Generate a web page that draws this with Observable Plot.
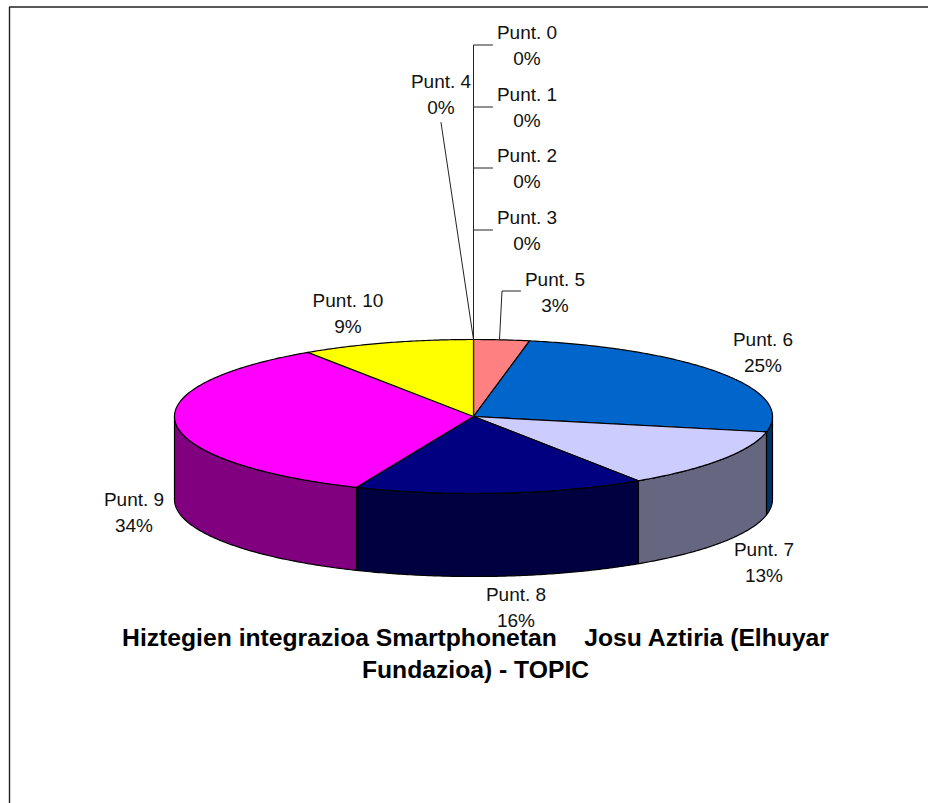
<!DOCTYPE html>
<html>
<head>
<meta charset="utf-8">
<script src="https://cdn.jsdelivr.net/npm/d3@7"></script>
<script src="https://cdn.jsdelivr.net/npm/@observablehq/plot@0.6"></script>
<style>html,body{margin:0;padding:0;background:#fff}svg{display:block}</style>
</head>
<body>
<div id="chart"></div>
<script>
// Data
const categories = ["Punt. 0","Punt. 1","Punt. 2","Punt. 3","Punt. 4","Punt. 5","Punt. 6","Punt. 7","Punt. 8","Punt. 9","Punt. 10"];
const shares = [0,0,0,0,0,3,25.2,12.5,15.7,34.25,9.35];
const titleLines = ["Hiztegien integrazioa Smartphonetan    Josu Aztiria (Elhuyar","Fundazioa) - TOPIC"];

// Styles
const topColors  = ["#ff8080","#ff8080","#ff8080","#ff8080","#ff8080","#ff8080","#0066cc","#ccccff","#000080","#ff00ff","#ffff00"];
const sideColors = ["#804040","#804040","#804040","#804040","#804040","#804040","#003366","#666680","#000040","#800080","#808000"];

// Layout (pixels of the frame)
const W = 928, H = 803;
const pie = {cx:473, cy:416, rx:299, ry:77, depth:83};
const labelX = [526.5,526.5,526.5,526.5,440.5,554.5,762.5,763.5,515.5,133.5,347.5];
const labelY = [45,107,168,230,94,292,352,562,607,512,313].map(y => y - 2);
const leaders = [
  {k:0, at:[[473,416],[473,44.5],[492,44.5]]},
  {k:1, at:[[473,106.5],[492,106.5]]},
  {k:2, at:[[473,167.5],[492,167.5]]},
  {k:3, at:[[473,229.5],[492,229.5]]},
  {k:4, at:[[473,339],[440.5,122]]},
  {k:5, at:[[499,339],[501.5,290.5],[520,290.5]]}
];

// Geometry derived from the values
const TAU = 2*Math.PI;
const total = d3.sum(shares);
const rim = (t, drop=0) => ({x: pie.cx + pie.rx*Math.sin(t), y: pie.cy - pie.ry*Math.cos(t) + drop});
const arc = (a,b,drop=0) => {
  const n = Math.max(2, Math.ceil((b-a)/0.01));
  return d3.range(n+1).map(i => rim(a+(b-a)*i/n, drop));
};
let run = 0;
const slices = shares.map((v,i)=>{ const a = run/total*TAU; run += v; return {i, v, a, b: run/total*TAU}; });

const polys = [];
for (const s of slices) {            // visible walls, front half only
  const a = Math.max(s.a, TAU/4), b = Math.min(s.b, 3*TAU/4);
  if (s.v > 0 && b > a) {
    const pts = [...arc(a,b), ...arc(a,b,pie.depth).reverse()];
    pts.push(pts[0]);
    pts.forEach(p => polys.push({...p, key:"side"+s.i, fill:sideColors[s.i]}));
  }
}
for (const s of slices) {            // top surface
  if (s.v > 0) {
    const c = {x:pie.cx, y:pie.cy};
    [c, ...arc(s.a,s.b), c].forEach(p => polys.push({...p, key:"top"+s.i, fill:topColors[s.i]}));
  }
}
const leaderPts = leaders.flatMap(l => l.at.map(([x,y]) => ({x,y,k:l.k})));
const labels = categories.map((c,i)=>({x:labelX[i], y:labelY[i], text:`${c}\n${Math.round(shares[i])}%`}));
const titles = titleLines.map((t,i)=>({x:475, y:638+32*i, text:t}));

const chart = Plot.plot({
  width:W, height:H, margin:0,
  x:{domain:[0,W], range:[0,W], axis:null},
  y:{domain:[0,H], range:[0,H], axis:null},
  style:{background:"#fff"},
  marks:[
    Plot.line([{x:9,y:H},{x:9,y:6.5},{x:W,y:6.5}], {x:"x", y:"y", stroke:"#222", strokeWidth:1.4}),
    Plot.line(polys, {x:"x", y:"y", z:"key", fill:"fill", stroke:"#000", strokeWidth:1.2, strokeLinejoin:"round"}),
    Plot.line(leaderPts, {x:"x", y:"y", z:"k", stroke:"#222", strokeWidth:1}),
    Plot.text(labels, {x:"x", y:"y", text:"text", fontFamily:"Liberation Sans", fontSize:19, lineHeight:1.37, fill:"#111"}),
    Plot.text(titles, {x:"x", y:"y", text:"text", fontFamily:"Liberation Sans", fontSize:24.7, fontWeight:"bold", fill:"#000"})
  ]
});
document.getElementById("chart").append(chart);
</script>
</body>
</html>
